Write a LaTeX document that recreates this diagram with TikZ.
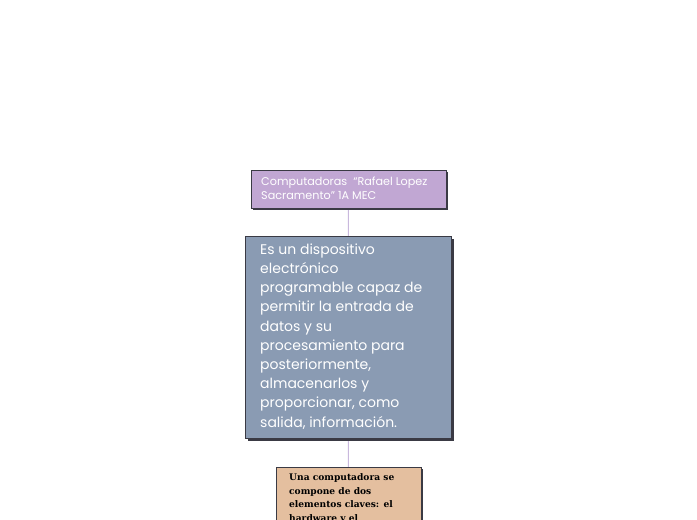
\documentclass[tikz,border=0pt]{standalone}
\usepackage{fontspec}
\setmainfont{Poppins}
\newfontfamily\slabfont{DejaVu Serif}
\definecolor{boxpurple}{HTML}{C1A7D3}
\definecolor{boxslate}{HTML}{8A9BB3}
\definecolor{boxtan}{HTML}{E4BF9F}
\definecolor{linkpurple}{HTML}{C9B8DD}
\definecolor{edge}{HTML}{3A3A44}
\tikzset{
  link/.style={draw=linkpurple, line width=0.9pt},
  txt/.style={anchor=north west, inner sep=0pt, align=left}
}
\begin{document}
\begin{tikzpicture}[x=1pt,y=-1pt]
\useasboundingbox (0,0) rectangle (697,520);
\clip (0,0) rectangle (697,520);
% anchor nodes for the boxes
\node (b1) [minimum width=195pt, minimum height=38pt, inner sep=0pt] at (348.5,189) {};
\node (b2) [minimum width=206pt, minimum height=202pt, inner sep=0pt] at (348,337) {};
\node (b3) [minimum width=145pt, minimum height=91pt, inner sep=0pt] at (348.5,512.5) {};
% connectors (behind boxes)
\draw[link] (b1.center) -- (b2.center);
\draw[link] (b2.center) -- (b3.center);
% boxes
\path[fill=edge] (253,172) rectangle (448,210);
\path[fill=boxpurple, draw=edge, line width=0.8pt] (251,170) rectangle (446,208);
\node[txt, text=white, font=\fontsize{11.2}{14.2}\selectfont] (t1) at (261,177)
  {Computadoras\ \ ``Rafael Lopez\\Sacramento'' 1A MEC};

\path[fill=edge] (248,239) rectangle (454,441);
\path[fill=boxslate, draw=edge, line width=0.8pt] (245,236) rectangle (451,438);
\node[txt, text=white, font=\fontsize{14}{19.2}\selectfont] (t2) at (260,243.5)
  {Es un dispositivo\\electrónico\\programable capaz de\\permitir la entrada de\\datos y su\\procesamiento para\\posteriormente,\\almacenarlos y\\proporcionar, como\\salida, información.};

\path[fill=edge] (278,469) rectangle (423,560);
\path[fill=boxtan, draw=edge, line width=0.8pt] (276,467) rectangle (421,558);
\node[txt, text=black, font=\slabfont\bfseries\fontsize{9.1}{13.5}\selectfont] (t3) at (289,473.5)
  {Una computadora se\\compone de dos\\elementos claves: el\\hardware y el};
\end{tikzpicture}
\end{document}
